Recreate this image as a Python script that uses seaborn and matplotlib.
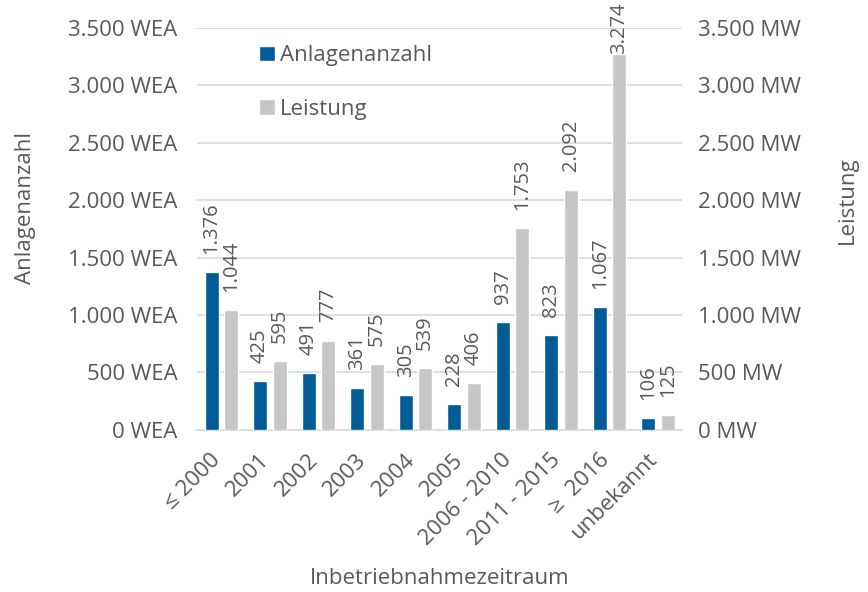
import pandas as pd
import seaborn as sns
import matplotlib.pyplot as plt
from matplotlib.transforms import ScaledTranslation

# Daten
zeitraum = ["≤ 2000", "2001", "2002", "2003", "2004", "2005",
            "2006 - 2010", "2011 - 2015", "≥  2016", "unbekannt"]
anlagenanzahl = [1376, 425, 491, 361, 305, 228, 937, 823, 1067, 106]
leistung = [1044, 595, 777, 575, 539, 406, 1753, 2092, 3274, 125]
y_ticks = [0, 500, 1000, 1500, 2000, 2500, 3000, 3500]

blau = "#005b96"
grau = "#c6c6c6"
textfarbe = "#595959"

sns.set_style("white")
plt.rcParams['font.family'] = ['Open Sans', 'DejaVu Sans']
plt.rcParams['text.color'] = textfarbe
plt.rcParams['axes.labelcolor'] = textfarbe
plt.rcParams['xtick.color'] = textfarbe
plt.rcParams['ytick.color'] = textfarbe


def de(v):
    return f"{v:,}".replace(",", ".")


df = pd.DataFrame({
    "Zeitraum": zeitraum * 2,
    "Wert": anlagenanzahl + leistung,
    "Reihe": ["Anlagenanzahl"] * len(zeitraum) + ["Leistung"] * len(zeitraum),
})

fig = plt.figure(figsize=(8.68, 5.92), dpi=100)
ax = fig.add_axes([0.227, 0.274, 0.559, 0.679])

sns.barplot(data=df, x="Zeitraum", y="Wert", hue="Reihe", order=zeitraum,
            palette=[blau, grau], width=0.8, gap=0.28, saturation=1,
            ax=ax, zorder=3)

ax.set_ylim(0, 3500)
ax.set_yticks(y_ticks)
ax.set_yticklabels([de(v) + " WEA" for v in y_ticks], fontsize=16)
ax.tick_params(axis="y", length=0, pad=14)
ax.grid(axis="y", color="#d9d9d9", linewidth=1.2, zorder=0)
for s in ["top", "right", "left"]:
    ax.spines[s].set_visible(False)
ax.spines["bottom"].set_color("#d9d9d9")
ax.spines["bottom"].set_linewidth(1.2)

ax.tick_params(axis="x", length=0, pad=4)
verschiebung = ScaledTranslation(-0.11, -0.14, fig.dpi_scale_trans)
for lbl in ax.get_xticklabels():
    lbl.set_rotation(45)
    lbl.set_ha("right")
    lbl.set_va("top")
    lbl.set_rotation_mode("anchor")
    lbl.set_fontsize(16)
    lbl.set_transform(lbl.get_transform() + verschiebung)

ax.set_xlabel("Inbetriebnahmezeitraum", fontsize=16)
ax.xaxis.set_label_coords(0.5, -0.343)
ax.set_ylabel("Anlagenanzahl", fontsize=16)
ax.yaxis.set_label_coords(-0.332, 0.552)

# Datenbeschriftungen
for cont in ax.containers:
    for bar in cont:
        h = bar.get_height()
        pad = 13 if h < 3000 else 0
        ax.annotate(de(int(round(h))), (bar.get_x() + bar.get_width() / 2, h),
                    xytext=(0, pad), textcoords="offset points",
                    rotation=90, ha="center", va="bottom", fontsize=14.5,
                    color=textfarbe)

# rechte Achse
ax2 = ax.twinx()
ax2.set_ylim(0, 3500)
ax2.set_yticks(y_ticks)
ax2.set_yticklabels([de(v) + " MW" for v in y_ticks], fontsize=16)
ax2.tick_params(axis="y", length=0, pad=11)
for s in ax2.spines.values():
    s.set_visible(False)
ax2.set_ylabel("Leistung", fontsize=16)
ax2.yaxis.set_label_coords(1.318, 0.572)

ax.legend(loc="upper left", bbox_to_anchor=(0.128, 0.957), frameon=False,
          fontsize=16, handlelength=0.7, handleheight=0.7, handletextpad=0.25,
          labelspacing=1.48, borderpad=0, borderaxespad=0)

fig.savefig("out.png", dpi=100)
